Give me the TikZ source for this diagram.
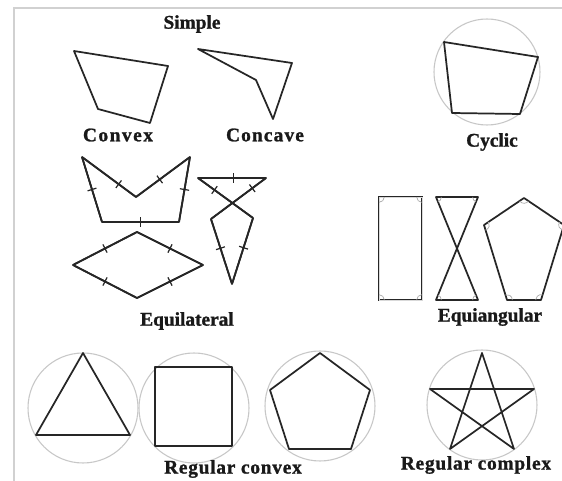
\documentclass[tikz,border=0pt]{standalone}
\usepackage{fontspec}
\setmainfont{Liberation Serif}
\usetikzlibrary{decorations.markings}
\begin{document}
\begin{tikzpicture}[x=0.75pt,y=-0.75pt,
  poly/.style={draw=black!85, line width=1.3pt, line join=round},
  dbl/.style={draw=black!85, line width=0.7pt, double=black!15, double distance=0.7pt, line join=miter},
  circ/.style={draw=black!22, line width=0.8pt},
  lbl/.style={font=\fontsize{14.5}{16}\selectfont\bfseries\addfontfeature{FakeBold=1.2}, inner sep=0pt, text=black!90},
  tk/.style={postaction={decorate,decoration={markings,mark=at position #1 with {\draw[black!85,line width=0.9pt] (0,-3.5pt)--(0,3.5pt);}}}},
  framel/.style={draw=black!18, line width=1.2pt},
  ang/.style={draw=black!35, line width=0.5pt}
]
\useasboundingbox[fill=white] (0,0) rectangle (562,481);
\draw[framel] (562,8) -- (14,8) -- (14,481);

% Simple
\node[lbl] (simple) at (192,24) {Simple};
\draw[poly] (74,51) -- (168,66) -- (150,123) -- (98,109) -- cycle;
\node[lbl] (convex) at (118,135) {\addfontfeature{LetterSpace=8}Convex};
\draw[poly] (198,49) -- (292,63) -- (273,119) -- (256,80) -- cycle;
\node[lbl] (concave) at (265,135) {\addfontfeature{LetterSpace=6}Concave};

% Cyclic
\draw[circ] (487,72) circle[radius=53];
\draw[poly] (444,42) -- (538,57) -- (520,114) -- (452,113) -- cycle;
\node[lbl] (cyclic) at (492,142) {Cyclic};

% Equilateral
\coordinate (c1) at (82,157); \coordinate (c2) at (136,197); \coordinate (c3) at (190,157);
\coordinate (c4) at (179,222); \coordinate (c5) at (102,222);
\draw[poly, tk=0.68] (c1) -- (c2);
\draw[poly, tk=0.44] (c2) -- (c3);
\draw[poly, tk=0.5] (c3) -- (c4);
\draw[poly, tk=0.5] (c4) -- (c5);
\draw[poly, tk=0.5] (c5) -- (c1);
\draw[poly] (c1) -- (c2) -- (c3) -- (c4) -- (c5) -- cycle;

\coordinate (r1) at (137,232); \coordinate (r2) at (203,265); \coordinate (r3) at (137,298); \coordinate (r4) at (73,265);
\draw[poly, tk=0.5] (r1) -- (r2);
\draw[poly, tk=0.5] (r2) -- (r3);
\draw[poly, tk=0.5] (r3) -- (r4);
\draw[poly, tk=0.5] (r4) -- (r1);
\draw[poly] (r1) -- (r2) -- (r3) -- (r4) -- cycle;

\coordinate (h1) at (198,178); \coordinate (h2) at (266,178); \coordinate (h3) at (211,219);
\coordinate (h4) at (232,284); \coordinate (h5) at (253,218);
\draw[poly, tk=0.52] (h1) -- (h2);
\draw[poly, tk=0.25] (h2) -- (h3);
\draw[poly, tk=0.45] (h3) -- (h4);
\draw[poly, tk=0.55] (h4) -- (h5);
\draw[poly, tk=0.3] (h1) -- (h5);
\draw[poly] (h1) -- (h2) -- (h3) -- (h4) -- (h5) -- cycle;
\node[lbl] (equilateral) at (187,321) {Equilateral};

% Equiangular
\draw[dbl] (379,197) rectangle (422,300);
\draw[ang] (379,197) ++(270:4pt) arc[start angle=270,end angle=360,radius=4pt];
\draw[ang] (422,197) ++(180:4pt) arc[start angle=180,end angle=270,radius=4pt];
\draw[ang] (422,300) ++(90:4pt) arc[start angle=90,end angle=180,radius=4pt];
\draw[ang] (379,300) ++(0:4pt) arc[start angle=0,end angle=90,radius=4pt];

\draw[poly] (436,197) -- (478,197) -- (436,300) -- (478,300) -- cycle;
\draw[ang] (436,197) ++(292:4pt) arc[start angle=292,end angle=360,radius=4pt];
\draw[ang] (478,197) ++(180:4pt) arc[start angle=180,end angle=248,radius=4pt];
\draw[ang] (436,300) ++(0:4pt) arc[start angle=0,end angle=68,radius=4pt];
\draw[ang] (478,300) ++(112:4pt) arc[start angle=112,end angle=180,radius=4pt];

\draw[poly] (524,198) -- (564,225) -- (541,300) -- (507,300) -- (484,225) -- cycle;
\draw[ang] (524,198) ++(214:4pt) arc[start angle=214,end angle=326,radius=4pt];
\draw[ang] (484,225) ++(-73:4pt) arc[start angle=-73,end angle=34,radius=4pt];
\draw[ang] (507,300) ++(0:4pt) arc[start angle=0,end angle=107,radius=4pt];
\draw[ang] (541,300) ++(73:4pt) arc[start angle=73,end angle=180,radius=4pt];
\draw[ang] (564,225) ++(146:4pt) arc[start angle=146,end angle=253,radius=4pt];
\node[lbl] (equiangular) at (490,317) {Equiangular};

% Regular convex
\draw[circ] (83,408) circle[radius=55];
\draw[poly] (83,353) -- (130,435) -- (36,435) -- cycle;
\draw[circ] (194,408) circle[radius=55];
\draw[poly] (155,367) rectangle (232,446);
\draw[circ] (320,406) circle[radius=55];
\draw[poly] (320,353) -- (370,390) -- (351,449) -- (289,449) -- (270,390) -- cycle;
\node[lbl] (regconvex) at (233,469) {\addfontfeature{LetterSpace=4}Regular convex};

% Regular complex
\draw[circ] (482,405) circle[radius=55];
\draw[poly] (482,353) -- (450,449) -- (534,389) -- (430,389) -- (514,449) -- cycle;
\node[lbl] (regcomplex) at (476,465) {\addfontfeature{LetterSpace=4}Regular complex};
\end{tikzpicture}
\end{document}
